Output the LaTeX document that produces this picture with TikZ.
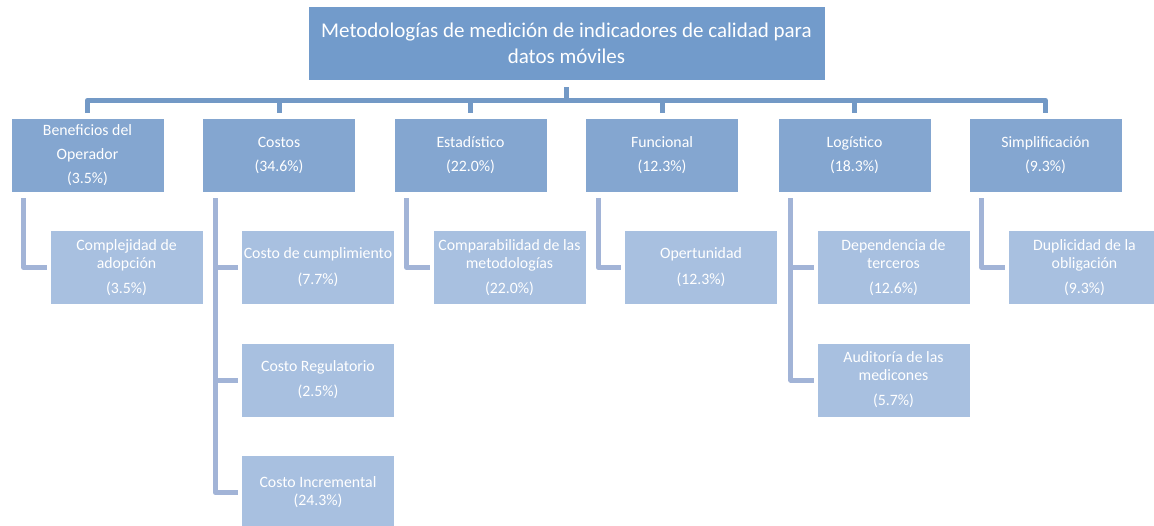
\documentclass[tikz,border=0pt]{standalone}
\usepackage{fontspec}
\setmainfont{Carlito}
\usetikzlibrary{calc}
\definecolor{rootc}{HTML}{729BCB}
\definecolor{catc}{HTML}{84A6D0}
\definecolor{subc}{HTML}{A8C0E0}
\definecolor{busc}{HTML}{7399C6}
\definecolor{linkc}{HTML}{A2B4D7}
\begin{document}
\begin{tikzpicture}[x=1pt,y=-1pt,
  box/.style={rectangle, draw=white, line width=0.6pt, text=white, align=center, inner sep=0pt, minimum width=153pt, minimum height=74pt},
  rootbox/.style={box, fill=rootc, minimum width=517pt, font=\fontsize{21}{26}\selectfont},
  catbox/.style={box, fill=catc, font=\fontsize{15.8}{24}\selectfont},
  subbox/.style={box, fill=subc, font=\fontsize{15.8}{18}\selectfont},
  bus/.style={draw=busc, line width=5pt, line join=round},
  link/.style={draw=linkc, line width=5pt, line join=round, shorten >=3pt}]
\clip (0,0) rectangle (1154,525);
\fill[white] (0,0) rectangle (1154,525);

\node[rootbox] (root) at (566.5,43) {Metodologías de medición de indicadores de calidad para\\datos móviles};

\node[catbox] (ben) at (87.5,155) {Beneficios del\\Operador\\(3.5\%)};
\node[catbox] (cos) at (279,155) {Costos\\(34.6\%)};
\node[catbox] (est) at (470.5,155) {Estadístico\\(22.0\%)};
\node[catbox] (fun) at (662,155) {Funcional\\(12.3\%)};
\node[catbox] (log) at (854.5,155) {Logístico\\(18.3\%)};
\node[catbox] (sim) at (1045.5,155) {Simplificación\\(9.3\%)};

\node[subbox] (cpl) at (126.5,267.5) {Complejidad de\\adopción\\[7pt](3.5\%)};
\node[subbox] (cc1) at (318,267.5) {Costo de cumplimiento\\[8pt](7.7\%)};
\node[subbox] (cc2) at (318,380) {Costo Regulatorio\\[7pt](2.5\%)};
\node[subbox] (cc3) at (318,492.5) {Costo Incremental\\(24.3\%)};
\node[subbox] (cmp) at (509.5,267.5) {Comparabilidad de las\\metodologías\\[7pt](22.0\%)};
\node[subbox] (opt) at (701,267.5) {Opertunidad\\[8pt](12.3\%)};
\node[subbox] (dep) at (893.5,267.5) {Dependencia de\\terceros\\[7pt](12.6\%)};
\node[subbox] (aud) at (893.5,380) {Auditoría de las\\medicones\\[7pt](5.7\%)};
\node[subbox] (dup) at (1084.5,267.5) {Duplicidad de la\\obligación\\[7pt](9.3\%)};

\foreach \c in {ben,cos,est,fun,log,sim}
  \draw[bus] ($(root.south)+(0,7)$) -- ++(0,13) -| ($(\c.north)+(0,-5)$);

\draw[link] ($(ben.south west)+(13,6)$) |- (cpl.west);
\draw[link] ($(cos.south west)+(13,6)$) |- (cc1.west);
\draw[link] ($(cos.south west)+(13,6)$) |- (cc2.west);
\draw[link] ($(cos.south west)+(13,6)$) |- (cc3.west);
\draw[link] ($(est.south west)+(13,6)$) |- (cmp.west);
\draw[link] ($(fun.south west)+(13,6)$) |- (opt.west);
\draw[link] ($(log.south west)+(13,6)$) |- (dep.west);
\draw[link] ($(log.south west)+(13,6)$) |- (aud.west);
\draw[link] ($(sim.south west)+(13,6)$) |- (dup.west);
\end{tikzpicture}
\end{document}
